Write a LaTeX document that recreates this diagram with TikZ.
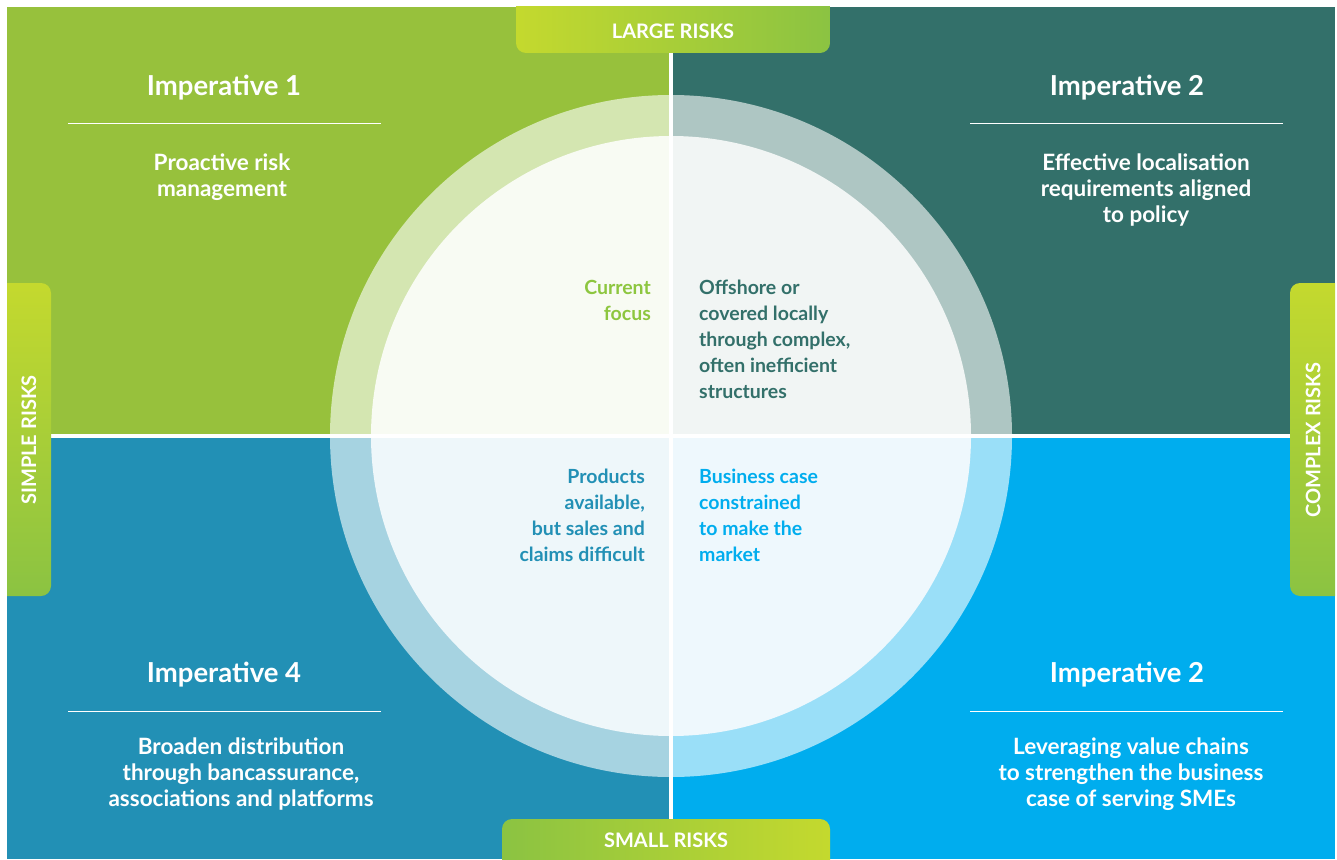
\documentclass[tikz,border=0pt]{standalone}
\usepackage{fontspec}
\setmainfont{Lato}

\definecolor{quadA}{HTML}{97C13C}
\definecolor{quadB}{HTML}{33706A}
\definecolor{quadC}{HTML}{2290B5}
\definecolor{quadD}{HTML}{00ADEE}
\definecolor{ringA}{HTML}{D4E6B1}
\definecolor{ringB}{HTML}{AEC6C3}
\definecolor{ringC}{HTML}{A6D3E1}
\definecolor{ringD}{HTML}{9ADFF8}
\definecolor{coreA}{HTML}{F8FBF3}
\definecolor{coreB}{HTML}{F1F5F4}
\definecolor{coreC}{HTML}{EEF7FA}
\definecolor{coreD}{HTML}{EEF8FD}
\definecolor{focusgreen}{HTML}{8DC63F}
\definecolor{tabyellow}{HTML}{C4D92E}
\definecolor{tabgreen}{HTML}{8BC342}

\tikzset{
  heading/.style={text=white, inner sep=0pt, font=\bfseries\fontsize{27.5}{32}\selectfont},
  bodytext/.style={text=white, inner sep=0pt, align=center, font=\bfseries\fontsize{22.5}{26}\selectfont},
  coretext/.style={inner sep=0pt, font=\bfseries\fontsize{19.5}{26}\selectfont},
  tablabel/.style={text=white, inner sep=0pt, font=\bfseries\fontsize{20}{22}\selectfont},
  rule/.style={draw=white, line width=1pt}
}

\begin{document}
\begin{tikzpicture}[x=1pt,y=-1pt]

      \useasboundingbox (0,0) rectangle (1337,859);

      % quadrants
      \fill[quadA] (7,7) rectangle (671,436);
      \fill[quadB] (671,7) rectangle (1335,436);
      \fill[quadC] (7,436) rectangle (671,859);
      \fill[quadD] (671,436) rectangle (1335,859);

      % circle, one quarter per quadrant
      \begin{scope}
        \clip (7,7) rectangle (671,436);
        \fill[ringA] (671,436) circle[radius=341];
        \fill[coreA] (671,436) circle[radius=300];
      \end{scope}
      \begin{scope}
        \clip (671,7) rectangle (1335,436);
        \fill[ringB] (671,436) circle[radius=341];
        \fill[coreB] (671,436) circle[radius=300];
      \end{scope}
      \begin{scope}
        \clip (7,436) rectangle (671,859);
        \fill[ringC] (671,436) circle[radius=341];
        \fill[coreC] (671,436) circle[radius=300];
      \end{scope}
      \begin{scope}
        \clip (671,436) rectangle (1335,859);
        \fill[ringD] (671,436) circle[radius=341];
        \fill[coreD] (671,436) circle[radius=300];
      \end{scope}

      % white cross
      \draw[white, line width=4.5pt] (671,7) -- (671,859);
      \draw[white, line width=4.5pt] (7,436) -- (1335,436);

      % tabs
      \begin{scope}
        \clip (7,7) rectangle (1335,859);
        \shade[left color=tabyellow, right color=tabgreen, rounded corners=10pt]
          (516,-20) rectangle (830,53);
        \shade[left color=tabgreen, right color=tabyellow, rounded corners=10pt]
          (502,819) rectangle (830,880);
        \shade[top color=tabyellow, bottom color=tabgreen, rounded corners=10pt]
          (-20,283) rectangle (51,596);
        \shade[top color=tabyellow, bottom color=tabgreen, rounded corners=10pt]
          (1290,283) rectangle (1360,596);
      \end{scope}

      \begin{scope}[every node/.style={tablabel}]
        \node (large) at (673,31) {LARGE RISKS};
        \node (small) at (666,840) {SMALL RISKS};
        \node[rotate=90] (simple) at (29,440) {SIMPLE RISKS};
        \node[rotate=90] (complex) at (1313,440) {COMPLEX RISKS};
      \end{scope}

      % corner texts
      \node[heading] (imp1) at (224,88) {Imperative 1};
      \node[heading] (imp2) at (1127,88) {Imperative 2};
      \node[heading] (imp4) at (224,675) {Imperative 4};
      \node[heading] (imp2b) at (1127,675) {Imperative 2};

      \draw[rule] (68,123) -- (381,123);
      \draw[rule] (970,123) -- (1283,123);
      \draw[rule] (68,711) -- (381,711);
      \draw[rule] (970,711) -- (1283,711);

      \node[bodytext] (risk) at (222,177) {Proactive risk\\management};
      \node[bodytext] (local) at (1146,190) {Effective localisation\\requirements aligned\\to policy};
      \node[bodytext] (distr) at (241,774) {Broaden distribution\\through bancassurance,\\associations and platforms};
      \node[bodytext] (chain) at (1131,774) {Leveraging value chains\\to strengthen the business\\case of serving SMEs};

      % circle texts
      \node[coretext, text=focusgreen, align=right, anchor=east] (focus) at (651,300) {Current\\focus};
      \node[coretext, text=quadB, align=left, anchor=west] (offshore) at (699,339)
        {Offshore or\\covered locally\\through complex,\\often inefficient\\structures};
      \node[coretext, text=quadC, align=right, anchor=east] (products) at (645,515)
        {Products\\available,\\but sales and\\claims difficult};
      \node[coretext, text=quadD, align=left, anchor=west] (business) at (699,515)
        {Business case\\constrained\\to make the\\market};

    \end{tikzpicture}
\end{document}
